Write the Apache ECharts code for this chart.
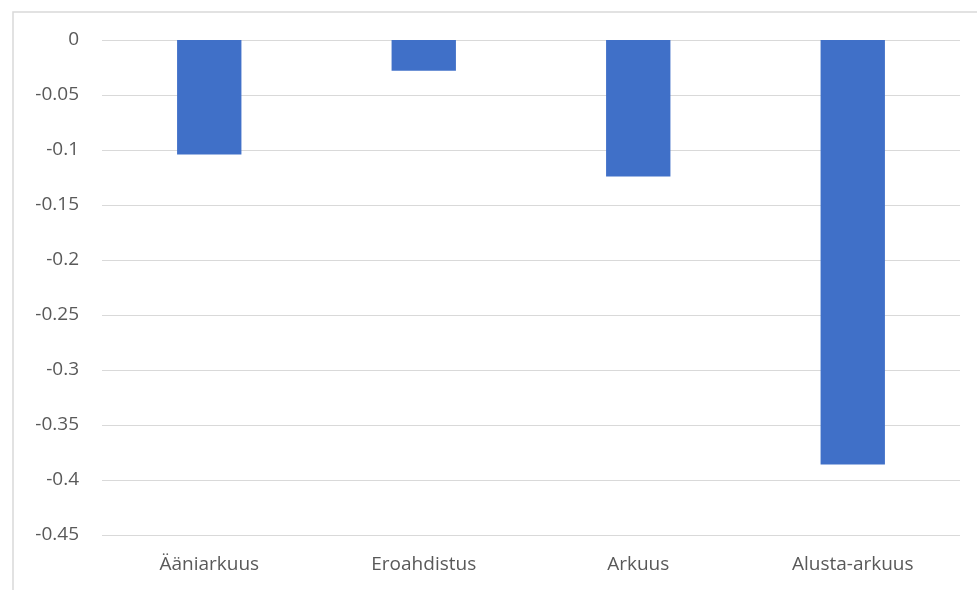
<!DOCTYPE html>
<html>
<head>
<meta charset="utf-8">
<script src="https://cdn.jsdelivr.net/npm/echarts@6/dist/echarts.min.js"></script>
<style>
html,body{margin:0;padding:0;background:#fff;}
#main{width:977px;height:590px;}
</style>
</head>
<body>
<div id="main"></div>
<script>
const categories = ['Ääniarkuus', 'Eroahdistus', 'Arkuus', 'Alusta-arkuus'];
const values = [-0.104, -0.028, -0.124, -0.386];
const yMin = -0.45, yMax = 0, yStep = 0.05;

const chart = echarts.init(document.getElementById('main'));
chart.setOption({
  animation: false,
  backgroundColor: '#ffffff',
  graphic: [{
    type: 'rect',
    shape: { x: 13, y: 12, width: 1000, height: 1000 },
    style: { fill: 'none', stroke: '#d9d9d9', lineWidth: 1.5 },
    silent: true
  }],
  grid: { left: 102, right: 17, top: 40, bottom: 55, containLabel: false },
  xAxis: {
    type: 'category',
    data: categories,
    position: 'bottom',
    axisLine: { show: false, onZero: false },
    axisTick: { show: false },
    axisLabel: { color: '#595959', fontSize: 19, fontFamily: 'Open Sans', margin: 20 }
  },
  yAxis: {
    type: 'value',
    min: yMin,
    max: yMax,
    interval: yStep,
    axisLine: { show: false },
    axisTick: { show: false },
    axisLabel: {
      color: '#595959', fontSize: 19, fontFamily: 'Open Sans', margin: 23,
      formatter: v => String(parseFloat(v.toFixed(2)))
    },
    splitLine: { lineStyle: { color: '#d9d9d9', width: 1 } }
  },
  series: [{
    type: 'bar',
    data: values,
    barWidth: '30%',
    itemStyle: { color: '#4070c8' }
  }]
});
</script>
</body>
</html>
